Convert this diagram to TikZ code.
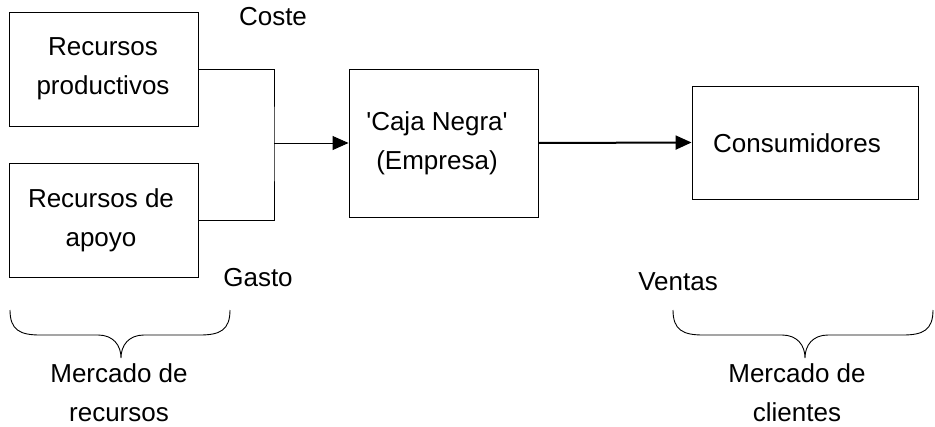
\documentclass[tikz,border=0pt]{standalone}
\usepackage{fontspec}
\setmainfont{Liberation Sans}
\usetikzlibrary{arrows.meta}
\begin{document}
\begin{tikzpicture}[x=1pt,y=-1pt,
  box/.style={draw=black,line width=0.9pt,inner sep=0pt},
  txt/.style={font=\fontsize{26}{39}\selectfont,align=center,inner sep=0pt},
  conn/.style={line width=0.9pt},
  arr/.style={line width=0.9pt,-{Triangle[length=16pt,width=14pt]}},
  thickarr/.style={line width=2pt,-{Triangle[length=16pt,width=14pt]}},
  brace/.style={line width=0.9pt}]
\useasboundingbox (0,0) rectangle (935,426);
% boxes
\node[box,minimum width=189,minimum height=114] (b1) at (103.5,69) {};
\node[txt] (b1t) at (103,69) {Recursos\\productivos};
\node[box,minimum width=189,minimum height=114] (b2) at (103.5,220) {};
\node[txt] (b2t) at (101,220) {Recursos de\\apoyo};
\node[box,minimum width=189,minimum height=148] (caja) at (443.5,143) {};
\node[txt] (cajat) at (437,143) {\textquotesingle Caja Negra\textquotesingle\\(Empresa)};
\node[box,minimum width=226,minimum height=113] (cons) at (805,142.5) {};
\node[txt] (const) at (797,143) {Consumidores};
% labels
\node[txt] (coste) at (273,17) {Coste};
\node[txt] (gasto) at (258,278) {Gasto};
\node[txt] (ventas) at (678,282) {Ventas};
\node[txt] (mr) at (119,393) {Mercado de\\recursos};
\node[txt] (mc) at (797,393) {Mercado de\\clientes};
% connectors
\coordinate (j) at (274,143);
\draw[conn] (b1.east) -| (j) |- (b2.east);
\draw[arr] (j) -- (caja.west);
\draw[thickarr] (caja.east) -- (cons.west);
% braces
\draw[brace] (10,310) .. controls (10,330) and (20,335) .. (40,335) -- (98,335)
  .. controls (113,335) and (121,345) .. (121,358)
  .. controls (121,345) and (129,335) .. (144,335) -- (200,335)
  .. controls (220,335) and (230,330) .. (230,310);
\draw[brace] (673,310) .. controls (673,330) and (683,335) .. (703,335) -- (782,335)
  .. controls (797,335) and (805,345) .. (805,358)
  .. controls (805,345) and (813,335) .. (828,335) -- (903,335)
  .. controls (923,335) and (933,330) .. (933,310);
\end{tikzpicture}
\end{document}
